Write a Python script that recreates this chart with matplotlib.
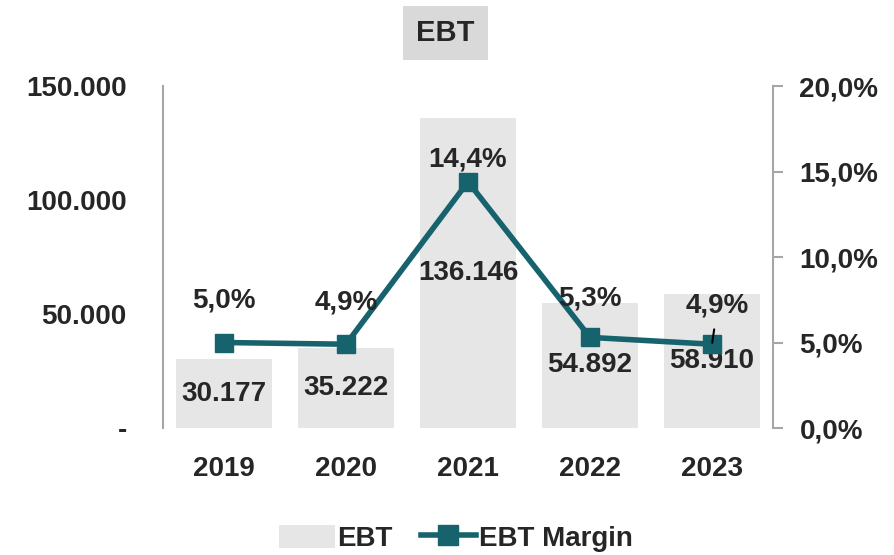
import matplotlib.pyplot as plt
import numpy as np
from matplotlib.lines import Line2D
from matplotlib.patches import Patch

plt.rcParams['font.family'] = ['Liberation Sans', 'DejaVu Sans']
plt.rcParams['font.weight'] = 'bold'

years = ['2019', '2020', '2021', '2022', '2023']
ebt = [30177, 35222, 136146, 54892, 58910]
margin = [5.0, 4.9, 14.4, 5.3, 4.9]
# label offsets above the margin points (points)
label_offset = [30, 30, 16, 28, 28]

bar_color = '#e6e6e6'
line_color = '#17636d'
text_color = '#262626'
spine_color = '#a6a6a6'
fs = 20


def fmt_thousands(v):
    return f'{v:,.0f}'.replace(',', '.')


def fmt_pct(v):
    return f'{v:.1f}%'.replace('.', ',')


fig = plt.figure(figsize=(8.94, 5.55), dpi=100)
ax = fig.add_axes([0.1823, 0.2288, 0.6824, 0.6162])
ax2 = ax.twinx()

x = np.arange(len(years))
ax.bar(x, ebt, width=0.78, color=bar_color, zorder=1)
ax.set_xlim(-0.5, len(years) - 0.5)
ax.set_ylim(0, 150000)
ax.set_yticks([0, 50000, 100000, 150000])
ax.set_yticklabels(['-'] + [fmt_thousands(v) for v in [50000, 100000, 150000]])
ax.set_xticks(x)
ax.set_xticklabels(years)
ax.tick_params(axis='y', length=0, pad=26, labelsize=fs, labelcolor=text_color)
ax.tick_params(axis='x', length=0, pad=20, labelsize=fs, labelcolor=text_color)
for s in ['top', 'right', 'bottom']:
    ax.spines[s].set_visible(False)
ax.spines['left'].set_color(spine_color)
ax.spines['left'].set_linewidth(1.5)

for xi, v in zip(x, ebt):
    ax.text(xi, v / 2, fmt_thousands(v), ha='center', va='center',
            fontsize=fs, color=text_color, zorder=5)

ax2.plot(x, margin, color=line_color, lw=4, marker='s', markersize=13, zorder=4)
ax2.set_ylim(0, 20)
ax2.set_yticks([0, 5, 10, 15, 20])
ax2.set_yticklabels([fmt_pct(v) for v in [0, 5, 10, 15, 20]])
ax2.tick_params(axis='y', length=7, width=1.5, color=spine_color, pad=12,
                labelsize=fs, labelcolor=text_color)
for s in ['top', 'left', 'bottom']:
    ax2.spines[s].set_visible(False)
ax2.spines['right'].set_color(spine_color)
ax2.spines['right'].set_linewidth(1.5)

for i, (xi, m) in enumerate(zip(x, margin)):
    if i == len(x) - 1:
        ax2.annotate(fmt_pct(m), (xi, m), xytext=(4, label_offset[i]),
                     textcoords='offset points', ha='center', va='center',
                     fontsize=fs, color=text_color, zorder=6,
                     arrowprops=dict(arrowstyle='-', color='black', lw=1.5,
                                     shrinkA=6, shrinkB=1))
    else:
        ax2.annotate(fmt_pct(m), (xi, m), xytext=(0, label_offset[i]),
                     textcoords='offset points', ha='center', va='center',
                     fontsize=fs, color=text_color, zorder=6)

fig.text(0.4985, 0.94, 'EBT', ha='center', va='center', fontsize=21,
         color=text_color,
         bbox=dict(boxstyle='square,pad=0.45', facecolor='#d9d9d9', edgecolor='none'))

handles = [Patch(facecolor=bar_color, edgecolor='none', label='EBT'),
           Line2D([0], [0], color=line_color, lw=4, marker='s', markersize=14,
                  label='EBT Margin')]
fig.legend(handles=handles, loc='center', bbox_to_anchor=(0.51, 0.03), ncol=2,
           frameon=False, fontsize=fs, handlelength=2.0, handleheight=0.9,
           columnspacing=1.0, handletextpad=0.1, labelcolor=text_color)

fig.savefig('out.png', dpi=100)
